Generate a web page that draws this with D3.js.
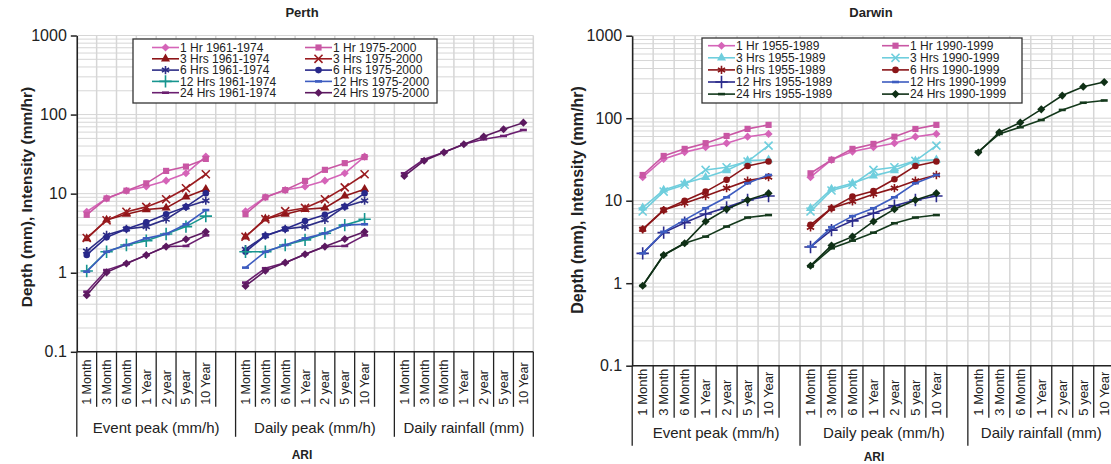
<!DOCTYPE html>
<html>
<head>
<meta charset="utf-8">
<script src="https://cdn.jsdelivr.net/npm/d3@7"></script>
<style>
body { margin: 0; background: #fff; }
text { font-family: "Liberation Sans", Arial, sans-serif; fill: #222; }
</style>
</head>
<body>
<svg width="1111" height="464"></svg>
<script>
var categories = ["1 Month", "3 Month", "6 Month", "1 Year", "2 year", "5 year", "10 Year"];
var groups = ["Event peak (mm/h)", "Daily peak (mm/h)", "Daily rainfall (mm)"];
var yTicks = [0.1, 1, 10, 100, 1000];

// values: event peak (7) | daily peak (7) | daily rainfall (7)
var perth1HrA = [5.9, 8.7, 10.9, 12.3, 14.6, 18.1, 29.4,  6.0, 9.0, 11.1, 12.3, 14.6, 18.1, 29.4,  null, null, null, null, null, null, null];
var perth1HrB = [5.4, 8.7, 10.9, 13.5, 19.4, 22, 27.5,  5.5, 9.0, 11.1, 14.5, 20, 24.3, 29,  null, null, null, null, null, null, null];
var perth3HrA = [2.7, 4.65, 5.5, 6.3, 6.6, 9.1, 11.4,  2.85, 4.8, 5.5, 6.35, 6.6, 9.35, 11.4,  null, null, null, null, null, null, null];
var perth3HrB = [2.75, 4.6, 5.9, 6.8, 8.5, 11.7, 17.6,  2.85, 4.75, 6.0, 6.6, 8.5, 12.0, 17.6,  null, null, null, null, null, null, null];
var perth6HrA = [1.88, 3.0, 3.57, 3.83, 4.74, 6.8, 8.15,  1.98, 2.94, 3.57, 3.83, 4.65, 6.85, 8.15,  null, null, null, null, null, null, null];
var perth6HrB = [1.68, 2.8, 3.57, 4.35, 5.5, 6.8, 10.1,  1.84, 2.94, 3.57, 4.5, 5.4, 6.85, 10.1,  null, null, null, null, null, null, null];
var perth12HrA = [1.05, 1.84, 2.24, 2.54, 3.09, 3.83, 5.2,  1.84, 1.84, 2.24, 2.6, 3.15, 4.0, 4.74,  null, null, null, null, null, null, null];
var perth12HrB = [1.03, 1.84, 2.24, 2.72, 3.09, 4.1, 6.2,  1.16, 1.84, 2.24, 2.72, 3.15, 4.0, 4.1,  null, null, null, null, null, null, null];
var perth24HrA = [0.575, 1.08, 1.31, 1.67, 2.14, 2.18, 2.97,  0.75, 1.14, 1.34, 1.71, 2.14, 2.18, 2.97,  18.1, 27.2, 33.3, 42.2, 48.7, 53.6, 63.8];
var perth24HrB = [0.52, 1.01, 1.31, 1.67, 2.14, 2.65, 3.3,  0.68, 1.06, 1.34, 1.71, 2.14, 2.67, 3.3,  16.7, 26.1, 33.3, 42.2, 52.7, 65.2, 79];

var darwin1HrA = [19.3, 32.1, 38.8, 44.4, 49.8, 59.7, 64.5,  19.3, 31.3, 39.4, 44.4, 49.8, 59.7, 64.5,  null, null, null, null, null, null, null];
var darwin1HrB = [20.5, 34.9, 42.5, 49.8, 61, 74.2, 83,  21.5, 31.3, 42.5, 48.8, 59.7, 74, 83,  null, null, null, null, null, null, null];
var darwin3HrA = [8.2, 13.5, 16.3, 19.2, 23.2, 30.6, 31.3,  8.1, 13.9, 16.3, 20.0, 23.2, 30.4, 31.3,  null, null, null, null, null, null, null];
var darwin3HrB = [7.4, 12.9, 15.6, 23.6, 25.4, 29.8, 46.5,  7.4, 13.3, 15.6, 23.6, 25.4, 30.4, 46.5,  null, null, null, null, null, null, null];
var darwin6HrA = [4.5, 7.7, 9.3, 11.4, 14.2, 17.5, 19.3,  4.75, 8.1, 9.8, 12.0, 14.2, 17.5, 20.5,  null, null, null, null, null, null, null];
var darwin6HrB = [4.5, 7.7, 10.0, 12.9, 17.9, 26.4, 29.8,  5.1, 8.1, 11.2, 13.1, 18.2, 26.4, 29.8,  null, null, null, null, null, null, null];
var darwin12HrA = [2.3, 4.1, 5.4, 6.9, 8.3, 10.2, 11.4,  2.75, 4.4, 5.7, 7.05, 8.7, 10.2, 11.4,  null, null, null, null, null, null, null];
var darwin12HrB = [2.3, 4.2, 5.85, 8.1, 11.0, 16.3, 20.5,  2.78, 4.76, 6.5, 8.1, 11.0, 16.3, 20.5,  null, null, null, null, null, null, null];
var darwin24HrA = [0.93, 2.2, 3.05, 3.67, 4.86, 6.25, 6.7,  1.6, 2.65, 3.28, 4.1, 5.33, 6.25, 6.7,  39.4, 64.5, 77.8, 95, 126, 154, 164];
var darwin24HrB = [0.93, 2.2, 3.05, 5.6, 7.9, 10.2, 12.3,  1.63, 2.86, 3.67, 5.6, 7.9, 10.2, 12.3,  38.4, 67.6, 88.5, 128, 188, 241, 274];

var perthNames = ["1 Hr 1961-1974", "1 Hr 1975-2000", "3 Hrs 1961-1974", "3 Hrs 1975-2000", "6 Hrs 1961-1974",
  "6 Hrs 1975-2000", "12 Hrs 1961-1974", "12 Hrs 1975-2000", "24 Hrs 1961-1974", "24 Hrs 1975-2000"];
var darwinNames = ["1 Hr 1955-1989", "1 Hr 1990-1999", "3 Hrs 1955-1989", "3 Hrs 1990-1999", "6 Hrs 1955-1989",
  "6 Hrs 1990-1999", "12 Hrs 1955-1989", "12 Hrs 1990-1999", "24 Hrs 1955-1989", "24 Hrs 1990-1999"];

var perthColors = ["#d564b8", "#c957a4", "#8e1518", "#9a1c20", "#2d2d86", "#28288a", "#17958f", "#3d5cc0", "#6b1f70", "#5c1960"];
var darwinColors = ["#d564b8", "#c957a4", "#6fcedd", "#6fcedd", "#8a1518", "#8a1518", "#2b2b8c", "#3d5cc0", "#14391c", "#0f3016"];

var perthMarkers = ["diamond", "square", "triangle", "x", "asterisk", "circle", "plus", "dash", "dash", "diamond"];
var darwinMarkers = ["diamond", "square", "triangle", "x", "asterisk", "circle", "plus", "dash", "dash", "diamond"];

var svg = d3.select('svg');

var drawMarker = function(g, type, color) {
  if (type == 'dash') {
    g.append('rect').attr('x', -3.5).attr('y', -1.3).attr('width', 7).attr('height', 2.6).attr('fill', color);
    return;
  }
  var sym = {diamond: d3.symbolDiamond2, square: d3.symbolSquare, triangle: d3.symbolTriangle, circle: d3.symbolCircle,
    x: d3.symbolTimes, asterisk: d3.symbolAsterisk, plus: d3.symbolPlus}[type];
  var size = {diamond: 42, square: 38, triangle: 36, circle: 34, x: 44, asterisk: 48, plus: 52}[type];
  var p = g.append('path').attr('d', d3.symbol().type(sym).size(size)());
  if (type == 'x' || type == 'asterisk' || type == 'plus') {
    p.attr('fill', 'none').attr('stroke', color).attr('stroke-width', 1.6);
  } else {
    p.attr('fill', color);
  }
}

var drawPanel = function(c) {
  var x = d3.scaleBand().domain(d3.range(23)).range([c.left, c.right]).paddingInner(0).paddingOuter(0);
  var y = d3.scaleLog().domain([0.1, 1000]).range([c.bottom, c.top]);
  var bw = x.bandwidth();
  var panel = svg.append('g');

  var grid = panel.append('g');
  var minors = [];
  [0.1, 1, 10, 100].forEach(function(d) {
    for (var k = 1; k < 10; k++) minors.push(d * k);
  });
  minors.push(1000);
  grid.selectAll('.hg').data(minors).enter().append('line')
    .attr('x1', c.left).attr('x2', c.right)
    .attr('y1', function(d) { return y(d); }).attr('y2', function(d) { return y(d); })
    .attr('stroke', '#d6d6d6').attr('stroke-width', 1);
  grid.selectAll('.vg').data(d3.range(24)).enter().append('line')
    .attr('x1', function(d) { return c.left + d * bw; }).attr('x2', function(d) { return c.left + d * bw; })
    .attr('y1', c.top).attr('y2', c.bottom)
    .attr('stroke', '#d6d6d6').attr('stroke-width', 1.5);

  // series
  var line = d3.line()
    .defined(function(d) { return d.v != null; })
    .x(function(d) { return x(d.slot) + bw / 2; })
    .y(function(d) { return y(d.v); });

  c.values.forEach(function(vals, s) {
    var pts = vals.map(function(v, i) {
      return {slot: Math.floor(i / 7) * 8 + (i % 7), v: v};
    });
    for (var g = 0; g < 3; g++) {
      var seg = pts.slice(g * 7, g * 7 + 7);
      panel.append('path').datum(seg)
        .attr('d', line)
        .attr('fill', 'none')
        .attr('stroke', c.colors[s])
        .attr('stroke-width', 1.6);
    }
    pts.filter(function(d) { return d.v != null; }).forEach(function(d) {
      var m = panel.append('g').attr('transform', 'translate(' + (x(d.slot) + bw / 2) + ',' + y(d.v) + ')');
      drawMarker(m, c.markers[s], c.colors[s]);
    });
  });

  // y axis
  var yAxis = d3.axisLeft(y).tickValues(yTicks).tickSize(6).tickSizeOuter(0).tickPadding(4)
    .tickFormat(function(d) { return d3.format('')(d); });
  var ya = panel.append('g').attr('transform', 'translate(' + c.left + ',0)').call(yAxis);
  ya.select('.domain').attr('stroke', '#222').attr('stroke-width', 1.5);
  ya.selectAll('.tick line').attr('stroke', '#222').attr('stroke-width', 1.5);
  ya.selectAll('.tick text').attr('font-size', 16).attr('font-family', '"Liberation Sans", Arial, sans-serif').attr('fill', '#222');

  // x axis
  panel.append('line')
    .attr('x1', c.left).attr('x2', c.right)
    .attr('y1', c.bottom).attr('y2', c.bottom)
    .attr('stroke', '#222').attr('stroke-width', 1.5);
  panel.selectAll('.xt').data(d3.range(24)).enter().append('line')
    .attr('x1', function(d) { return c.left + d * bw; }).attr('x2', function(d) { return c.left + d * bw; })
    .attr('y1', c.bottom)
    .attr('y2', function(d) { return (d % 8 == 0 || d == 23) ? c.bottom + c.groupTick : c.bottom + c.catTick; })
    .attr('stroke', '#222').attr('stroke-width', 1.3);

  groups.forEach(function(gName, g) {
    categories.forEach(function(cat, i) {
      var cx = x(g * 8 + i) + bw / 2;
      panel.append('text')
        .attr('transform', 'translate(' + (cx + 4.5) + ',' + (c.bottom + c.catTick - 2) + ') rotate(-90)')
        .attr('font-size', c.catFont)
        .text(cat);
    });
    var g0 = c.left + g * 8 * bw;
    var g1 = g == 2 ? c.left + 23 * bw : c.left + (g + 1) * 8 * bw;
    panel.append('text')
      .attr('x', (g0 + g1) / 2).attr('y', c.bottom + c.groupLabel)
      .attr('text-anchor', 'middle').attr('font-size', 15)
      .text(gName);
  });

  panel.append('text')
    .attr('x', c.ariX).attr('y', c.ariY)
    .attr('text-anchor', 'middle').attr('font-size', 12).attr('font-weight', 'bold')
    .text('ARI');

  panel.append('text')
    .attr('x', c.titleX).attr('y', 17)
    .attr('text-anchor', 'middle').attr('font-size', 13).attr('font-weight', 'bold')
    .text(c.title);

  panel.append('text')
    .attr('transform', 'translate(' + c.yLabelX + ',' + c.yLabelY + ') rotate(-90)')
    .attr('text-anchor', 'middle').attr('font-size', c.yLabelFont).attr('font-weight', 'bold')
    .text('Depth (mm), Intensity (mm/hr)');

  // legend
  var lg = panel.append('g');
  lg.append('rect')
    .attr('x', c.legend.x).attr('y', c.legend.y)
    .attr('width', c.legend.w).attr('height', c.legend.h)
    .attr('fill', '#fff').attr('stroke', '#333').attr('stroke-width', 1.3);
  c.names.forEach(function(name, s) {
    var row = Math.floor(s / 2);
    var col = s % 2;
    var lx = c.legend.x + c.legend.colX[col];
    var ly = c.legend.y + c.legend.row0 + row * c.legend.rowH;
    lg.append('line')
      .attr('x1', lx).attr('x2', lx + 27)
      .attr('y1', ly).attr('y2', ly)
      .attr('stroke', c.colors[s]).attr('stroke-width', 1.6);
    var m = lg.append('g').attr('transform', 'translate(' + (lx + 13.5) + ',' + ly + ')');
    drawMarker(m, c.markers[s], c.colors[s]);
    lg.append('text')
      .attr('x', lx + 28).attr('y', ly + 4.3)
      .attr('font-size', 12)
      .text(name);
  });
}

drawPanel({
  title: 'Perth', titleX: 302,
  left: 76.8, right: 533.3, top: 35.5, bottom: 351.8,
  catTick: 55, groupTick: 85, catFont: 12.5, groupLabel: 81,
  ariX: 302, ariY: 459,
  yLabelX: 32, yLabelY: 197, yLabelFont: 15.5,
  names: perthNames, colors: perthColors, markers: perthMarkers,
  values: [perth1HrA, perth1HrB, perth3HrA, perth3HrB, perth6HrA, perth6HrB, perth12HrA, perth12HrB, perth24HrA, perth24HrB],
  legend: {x: 133, y: 39, w: 304, h: 64, colX: [19, 172], row0: 8.5, rowH: 11.3}
});

drawPanel({
  title: 'Darwin', titleX: 871,
  left: 632.2, right: 1114.7, top: 35.7, bottom: 365.7,
  catTick: 52, groupTick: 80, catFont: 13, groupLabel: 72,
  ariX: 874, ariY: 461,
  yLabelX: 583, yLabelY: 200, yLabelFont: 16,
  names: darwinNames, colors: darwinColors, markers: darwinMarkers,
  values: [darwin1HrA, darwin1HrB, darwin3HrA, darwin3HrB, darwin6HrA, darwin6HrB, darwin12HrA, darwin12HrB, darwin24HrA, darwin24HrB],
  legend: {x: 702, y: 38, w: 320, h: 65, colX: [6, 180], row0: 7.7, rowH: 12.1}
});
</script>
</body>
</html>
